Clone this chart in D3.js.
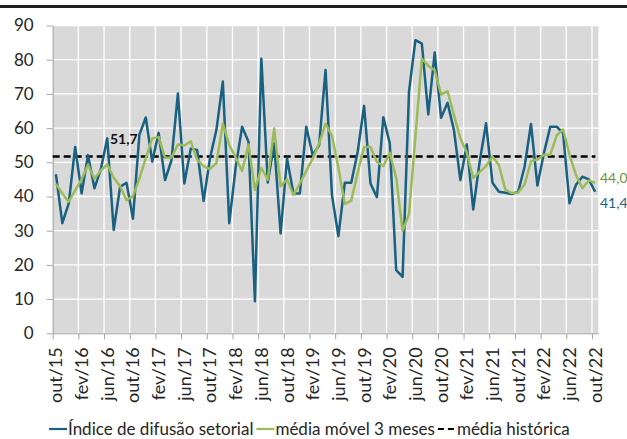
<!DOCTYPE html>
<html>
<head>
<meta charset="utf-8">
<script src="https://cdn.jsdelivr.net/npm/d3@7"></script>
<style>
  body { margin: 0; background: #fff; }
  text { font-family: Lato, "Open Sans", sans-serif; }
</style>
</head>
<body>
<div id="chart"></div>
<script>
// categories, out/15 .. out/22
const months = [
  "out/15","nov/15","dez/15","jan/16","fev/16","mar/16","abr/16","mai/16","jun/16","jul/16","ago/16","set/16",
  "out/16","nov/16","dez/16","jan/17","fev/17","mar/17","abr/17","mai/17","jun/17","jul/17","ago/17","set/17",
  "out/17","nov/17","dez/17","jan/18","fev/18","mar/18","abr/18","mai/18","jun/18","jul/18","ago/18","set/18",
  "out/18","nov/18","dez/18","jan/19","fev/19","mar/19","abr/19","mai/19","jun/19","jul/19","ago/19","set/19",
  "out/19","nov/19","dez/19","jan/20","fev/20","mar/20","abr/20","mai/20","jun/20","jul/20","ago/20","set/20",
  "out/20","nov/20","dez/20","jan/21","fev/21","mar/21","abr/21","mai/21","jun/21","jul/21","ago/21","set/21",
  "out/21","nov/21","dez/21","jan/22","fev/22","mar/22","abr/22","mai/22","jun/22","jul/22","ago/22","set/22",
  "out/22"
];

// Índice de difusão setorial
const indice = [
  46.5, 32.2, 38.0, 54.5, 40.9, 52.1, 42.4, 48.0, 57.0, 30.2, 42.8, 44.0,
  33.5, 58.0, 63.1, 50.2, 58.6, 44.8, 50.6, 70.1, 43.8, 54.0, 53.6, 38.7,
  51.2, 59.5, 73.6, 32.2, 48.5, 60.4, 56.0, 9.4, 80.3, 44.1, 55.5, 29.2,
  51.1, 40.9, 40.9, 60.4, 52.1, 55.0, 77.0, 40.4, 28.4, 44.0, 44.0, 53.0,
  66.5, 43.8, 39.8, 63.2, 55.6, 18.5, 16.5, 70.7, 85.7, 84.7, 64.0, 82.1,
  63.0, 67.4, 59.4, 44.8, 55.2, 36.2, 50.1, 61.4, 44.0, 41.4, 41.1, 40.7,
  41.4, 48.7, 61.2, 43.2, 52.6, 60.4, 60.4, 58.5, 38.0, 43.4, 45.8, 45.0,
  41.4
];

// média móvel 3 meses
const media3m = [
  43.7, 40.9, 38.5, 41.8, 45.0, 49.3, 45.2, 47.6, 49.4, 45.5, 43.0, 38.9,
  40.1, 45.2, 51.2, 57.0, 57.4, 51.3, 51.4, 55.2, 54.9, 56.1, 50.8, 48.9,
  48.0, 49.8, 61.3, 55.0, 51.4, 47.5, 55.2, 41.9, 48.4, 44.9, 59.9, 43.0,
  45.0, 40.4, 43.8, 47.5, 51.1, 55.5, 61.3, 57.7, 48.4, 37.8, 38.8, 46.9,
  54.5, 54.5, 50.1, 48.9, 52.8, 45.5, 30.0, 34.9, 57.6, 80.3, 78.2, 76.9,
  69.8, 70.8, 63.8, 57.0, 52.8, 45.4, 47.2, 48.9, 51.7, 49.2, 42.0, 41.0,
  41.2, 43.5, 50.3, 50.8, 52.2, 52.2, 57.9, 59.6, 52.2, 46.4, 42.4, 44.7,
  44.0
];

const mediaHistorica = 51.7;
const yTicks = [0, 10, 20, 30, 40, 50, 60, 70, 80, 90];
const tickLabels = ["out/15","fev/16","jun/16","out/16","fev/17","jun/17","out/17","fev/18","jun/18","out/18","fev/19",
  "jun/19","out/19","fev/20","jun/20","out/20","fev/21","jun/21","out/21","fev/22","jun/22","out/22"];
const seriesNames = ["Índice de difusão setorial", "média móvel 3 meses", "média histórica"];

const W = 627, H = 439;
const pLeft = 52.7, pRight = 598.4, pTop = 25.5, pBottom = 333.3;
const blue = "#1a6080", green = "#9bbb59";

const svg = d3.select("#chart").append("svg").attr("width", W).attr("height", H);

// top rule
svg.append("rect").attr("x", 0).attr("y", 5).attr("width", W).attr("height", 3).attr("fill", "#1f1f1f");

const x = d3.scaleBand().domain(months).range([pLeft, pRight]).padding(0);
const xb = d3.scaleLinear().domain([0, months.length]).range([pLeft, pRight]); // category boundaries
const y = d3.scaleLinear().domain([0, 90]).range([pBottom, pTop]);
const cx = d => x(d) + x.bandwidth() / 2;

// plot area
svg.append("rect").attr("x", pLeft).attr("y", pTop).attr("width", pRight - pLeft).attr("height", pBottom - pTop)
  .attr("fill", "#d9d9d9");

// grid
const bounds = d3.range(4, months.length, 4);
svg.append("g").selectAll("line").data(bounds).join("line")
  .attr("x1", d => xb(d)).attr("x2", d => xb(d)).attr("y1", pTop).attr("y2", pBottom)
  .attr("stroke", "#fff").attr("stroke-width", 1.3);
svg.append("g").selectAll("line").data(yTicks.slice(1)).join("line")
  .attr("x1", pLeft).attr("x2", pRight).attr("y1", d => y(d)).attr("y2", d => y(d))
  .attr("stroke", "#fff").attr("stroke-width", 1.3);

// y axis
const yAxis = svg.append("g").attr("transform", `translate(${pLeft},0)`)
  .call(d3.axisLeft(y).tickValues(yTicks).tickSize(6).tickSizeOuter(0).tickPadding(13));
yAxis.selectAll("path, line").attr("stroke", "#a6a6a6");
yAxis.selectAll("text").attr("font-size", 17).attr("fill", "#262626").attr("font-family", "Lato, sans-serif");

// x axis (ticks at boundaries)
const xAxis = svg.append("g").attr("transform", `translate(0,${pBottom})`)
  .call(d3.axisBottom(xb).tickValues(d3.range(0, months.length, 4)).tickSize(6).tickSizeOuter(0).tickFormat(""));
xAxis.selectAll("path, line").attr("stroke", "#a6a6a6");

svg.append("g").selectAll("text").data(tickLabels).join("text")
  .attr("transform", d => `translate(${cx(d)},${pBottom + 14}) rotate(-90)`)
  .attr("text-anchor", "end").attr("dy", "0.36em")
  .attr("font-size", 18).attr("fill", "#262626")
  .text(d => d);

// lines
const line = d3.line().x((d, i) => cx(months[i])).y(d => y(d));

svg.append("line")
  .attr("x1", pLeft).attr("x2", pRight - 3).attr("y1", y(mediaHistorica)).attr("y2", y(mediaHistorica))
  .attr("stroke", "#000").attr("stroke-width", 2.5).attr("stroke-dasharray", "7,4");

svg.append("path").datum(indice).attr("d", line)
  .attr("fill", "none").attr("stroke", blue).attr("stroke-width", 2.5).attr("stroke-linejoin", "round");
svg.append("path").datum(media3m).attr("d", line)
  .attr("fill", "none").attr("stroke", green).attr("stroke-width", 2.5).attr("stroke-linejoin", "round");

// labels
svg.append("text").attr("x", 110).attr("y", 144).attr("font-size", 14).attr("font-weight", "bold")
  .attr("fill", "#111").text(d3.format(".1f")(mediaHistorica).replace(".", ","));
svg.append("text").attr("x", 600).attr("y", 183).attr("font-size", 14).attr("fill", "#76923c")
  .text(d3.format(".1f")(media3m[media3m.length - 1]).replace(".", ","));
svg.append("text").attr("x", 600).attr("y", 208).attr("font-size", 14).attr("fill", "#1f6286")
  .text(d3.format(".1f")(indice[indice.length - 1]).replace(".", ","));

// legend
const legend = svg.append("g").attr("transform", "translate(0,429)");
let lx = 49;
const styles = [
  { color: blue, dash: null },
  { color: green, dash: null },
  { color: "#000", dash: "6,4" }
];
seriesNames.forEach((name, i) => {
  legend.append("line").attr("x1", lx).attr("x2", lx + 18).attr("y1", 0).attr("y2", 0)
    .attr("stroke", styles[i].color).attr("stroke-width", 2.2).attr("stroke-dasharray", styles[i].dash);
  const t = legend.append("text").attr("x", lx + 19).attr("dy", "0.35em").attr("font-size", 17)
    .attr("fill", "#262626").text(name);
  lx += 19 + t.node().getComputedTextLength() + 3;
});
</script>
</body>
</html>
